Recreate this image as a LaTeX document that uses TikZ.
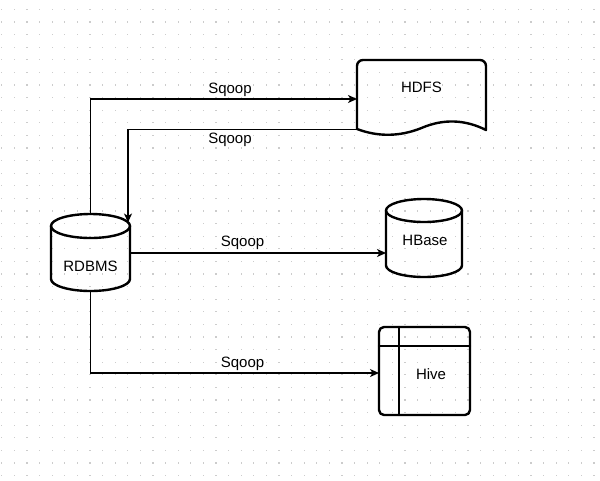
\documentclass[tikz,border=0pt]{standalone}
\usepackage{fontspec}
\setmainfont{Liberation Sans}
\usetikzlibrary{arrows.meta}
\begin{document}
\begin{tikzpicture}[x=1pt,y=-1pt,
  shapeline/.style={line width=2.4pt, line join=round, line cap=round},
  conn/.style={line width=1.3pt, -{Stealth[length=9pt,width=8pt,inset=2.5pt]}},
  lbl/.style={font=\fontsize{15}{18}\selectfont, inner sep=0pt, anchor=base},
  frame/.style={inner sep=0pt, outer sep=0pt, draw=none}]
\useasboundingbox (0,0) rectangle (600,480);
\fill[white] (0,0) rectangle (600,480);
\foreach \i in {0,...,47}{\foreach \j in {0,...,37}{\fill[black!20] ({1.2+12.6*\i},{8.8+12.6*\j}) rectangle ++(1.2,1.2);}}
% invisible frames of the shapes
\node[frame, minimum width=79pt, minimum height=77pt] (rdbms) at (90.5,252.5) {};
\node[frame, minimum width=129pt, minimum height=70pt] (hdfs) at (421.5,95) {};
\node[frame, minimum width=76pt, minimum height=78pt] (hbase) at (424,238) {};
\node[frame, minimum width=91pt, minimum height=88pt] (hive) at (424.5,371) {};
% RDBMS cylinder
\draw[shapeline] (51,226) -- (51,279) arc[start angle=180,end angle=0,x radius=39.5,y radius=12] -- (130,226);
\draw[shapeline] (90.5,226) ellipse[x radius=39.5,y radius=12];
% HBase cylinder
\draw[shapeline] (386,210.5) -- (386,265.5) arc[start angle=180,end angle=0,x radius=38,y radius=11.5] -- (462,210.5);
\draw[shapeline] (424,210.5) ellipse[x radius=38,y radius=11.5];
% HDFS document
\draw[shapeline] (357,129) [rounded corners=6] -- (357,60) -- (486,60) [sharp corners] -- (486,130)
  .. controls (464.7,119.3) and (443.2,118.7) .. (421.5,128)
  .. controls (399.8,136.7) and (378.3,137) .. (357,129) -- cycle;
% Hive table
\draw[shapeline, rounded corners=5] (379,327) rectangle (470,415);
\draw[shapeline] (399,327) -- (399,415);
\draw[shapeline] (379,346) -- (470,346);
% texts
\node[lbl] (rdbmstext) at (90.5,271) {RDBMS};
\node[lbl] (hdfstext) at (421.5,92.3) {HDFS};
\node[lbl] (hbasetext) at (425,245.7) {HBase};
\node[lbl] (hivetext) at (431,379) {Hive};
% connection points
\coordinate (hdfsin) at (357,99);
\coordinate (hdfsout) at (357,129.5);
\coordinate (rdbmsin) at (128,222.5);
\coordinate (rdbmsright) at (130,253);
\coordinate (hbasein) at (386,253);
\coordinate (hivein) at (379,373);
% connectors
\draw[conn] (rdbms.north) |- (hdfsin);
\draw[conn] (hdfsout) -| (rdbmsin);
\draw[conn] (rdbmsright) -- (hbasein);
\draw[conn] (rdbms.south) |- (hivein);
% labels
\node[lbl] (sq1) at (230,93) {Sqoop};
\node[lbl] (sq2) at (230,143) {Sqoop};
\node[lbl] (sq3) at (242.5,246) {Sqoop};
\node[lbl] (sq4) at (242.5,367) {Sqoop};
\end{tikzpicture}
\end{document}
